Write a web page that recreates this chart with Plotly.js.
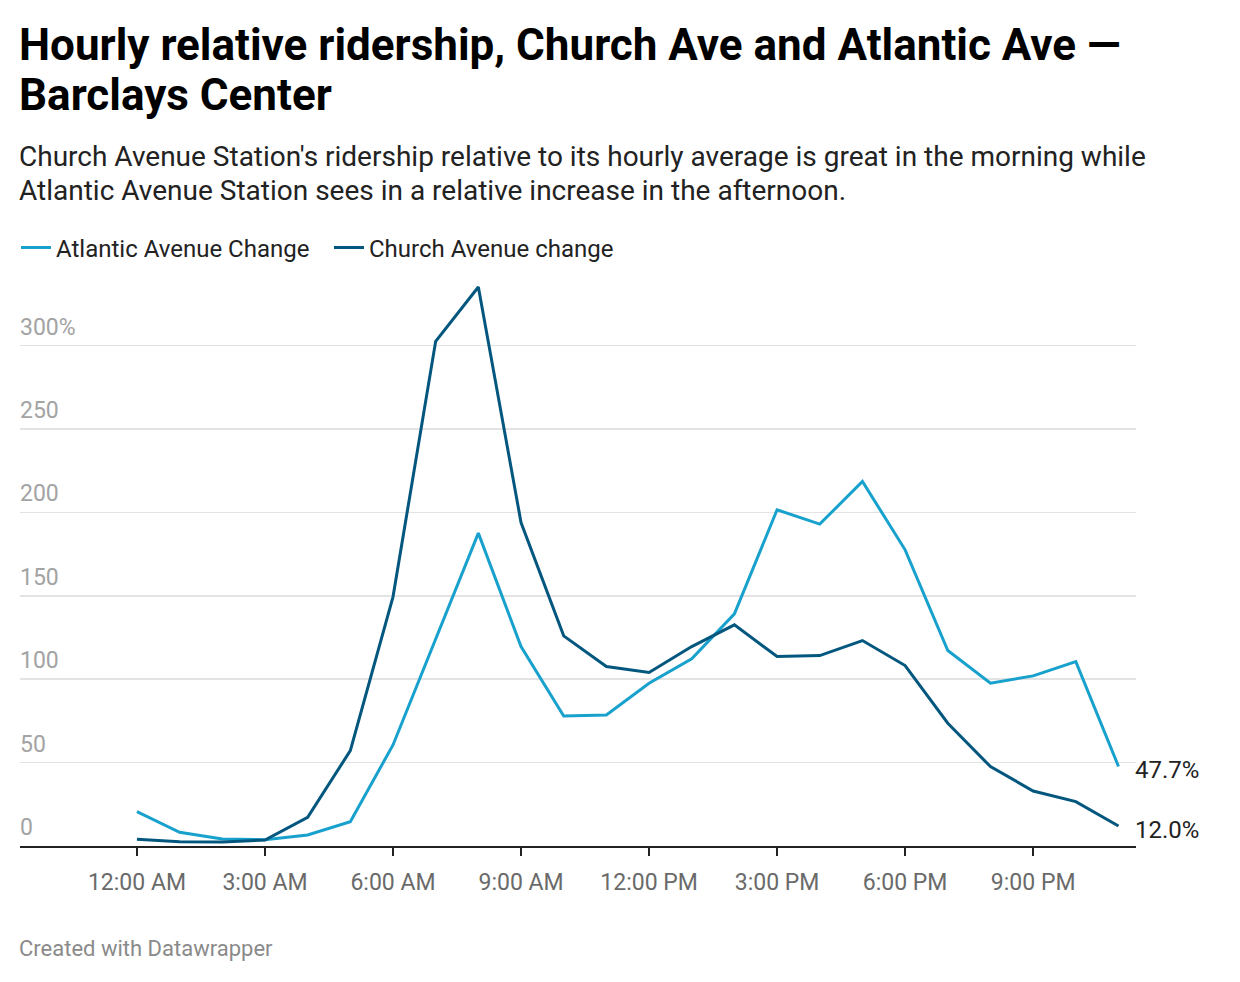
<!DOCTYPE html>
<html>
<head>
<meta charset="utf-8">
<script src="https://cdn.plot.ly/plotly-3.0.1.min.js"></script>
<style>html,body{margin:0;padding:0;background:#fff;}</style>
</head>
<body>
<div id="chart" style="width:1240px;height:982px;"></div>
<script>
const hours = [0,1,2,3,4,5,6,7,8,9,10,11,12,13,14,15,16,17,18,19,20,21,22,23];
const atlanticChange = [20.6,8.2,4.2,3.8,6.6,14.6,60.6,123.6,187.6,119.6,78,78.6,97.6,112.2,139.2,201.6,193,218.6,177.6,117.2,97.6,102,110.6,47.7];
const churchChange = [4.0,2.6,2.4,3.6,17.2,57.2,149.4,302.6,335.2,194,126,107.6,104,119.6,132.6,113.6,114.2,123.2,108.2,73.6,47.6,33,26.6,12.0];
const xTickVals = [0,3,6,9,12,15,18,21];
const xTickText = ["12:00 AM","3:00 AM","6:00 AM","9:00 AM","12:00 PM","3:00 PM","6:00 PM","9:00 PM"];
const yTickVals = [0,50,100,150,200,250,300];
const yTickText = ["0","50","100","150","200","250","300%"];
const seriesNames = ["Atlantic Avenue Change","Church Avenue change"];
const titleLines = ["Hourly relative ridership, Church Ave and Atlantic Ave —","Barclays Center"];
const subtitleLines = ["Church Avenue Station's ridership relative to its hourly average is great in the morning while","Atlantic Avenue Station sees in a relative increase in the afternoon."];
const footerText = "Created with Datawrapper";

const lightBlue = "#18a1cd";
const darkBlue = "#03577f";
const font = "Roboto, 'Noto Sans', sans-serif";

// plot area in pixels
const W = 1240, H = 982, PL = 20, PR = 1136, PT = 279, PB = 846;
const px = x => (x - PL) / (PR - PL);
const py = y => (PB - y) / (PB - PT);

const traces = [
  {x: hours, y: atlanticChange, name: seriesNames[0], type: "scatter", mode: "lines",
   line: {color: lightBlue, width: 3}, hoverinfo: "skip"},
  {x: hours, y: churchChange, name: seriesNames[1], type: "scatter", mode: "lines",
   line: {color: darkBlue, width: 3}, hoverinfo: "skip"}
];

const lastA = atlanticChange[atlanticChange.length-1];
const lastC = churchChange[churchChange.length-1];

function textAnn(text, xPix, yPix, size, color, bold) {
  return {xref: "paper", yref: "paper", x: px(xPix), y: py(yPix), xanchor: "left", yanchor: "middle",
    xshift: -3, showarrow: false, align: "left", text: bold ? "<b>" + text + "</b>" : text,
    font: {family: font, size: size, color: color}};
}

const layout = {
  width: W, height: H,
  paper_bgcolor: "#fff", plot_bgcolor: "#fff",
  margin: {l: PL, r: W - PR, t: PT, b: H - PB},
  font: {family: font, color: "#333"},
  showlegend: true,
  legend: {
    orientation: "h", xref: "container", yref: "container",
    x: 16/W, xanchor: "left", y: 1 - 248/H, yanchor: "middle",
    font: {family: font, size: 24, color: "#222"},
    entrywidth: 268, entrywidthmode: "pixels"
  },
  xaxis: {
    range: [-2.74, 23.41], tickvals: xTickVals, ticktext: xTickText,
    showgrid: false, zeroline: false, showline: true, linecolor: "#222", linewidth: 2,
    ticks: "outside", ticklen: 8, tickwidth: 2, tickcolor: "#222",
    ticklabelstandoff: 6,
    tickfont: {family: font, size: 23, color: "#6a6a6a"}, fixedrange: true
  },
  yaxis: {
    range: [0, 340], tickvals: yTickVals, ticktext: yTickText,
    showgrid: true, gridcolor: "#e3e3e3", gridwidth: 1.5, zeroline: false,
    ticklabelposition: "inside top", ticks: "",
    ticklabelstandoff: -3, ticklabelshift: -3,
    tickfont: {family: font, size: 23, color: "#a3a3a3"}, fixedrange: true
  },
  annotations: [
    textAnn(titleLines[0], 20, 45, 44, "#000", true),
    textAnn(titleLines[1], 20, 95, 44, "#000", true),
    textAnn(subtitleLines[0], 20, 157, 28, "#222", false),
    textAnn(subtitleLines[1], 20, 190, 28, "#222", false),
    {xref: "x", yref: "y", x: 23, y: lastA, xanchor: "left", xshift: 14, yshift: -4, showarrow: false,
     text: lastA.toFixed(1) + "%", font: {family: font, size: 24, color: "#222"}},
    {xref: "x", yref: "y", x: 23, y: lastC, xanchor: "left", xshift: 14, yshift: -4, showarrow: false,
     text: lastC.toFixed(1) + "%", font: {family: font, size: 24, color: "#222"}},
    textAnn(footerText, 20, 948.5, 22, "#8a8a8a", false)
  ]
};

Plotly.newPlot("chart", traces, layout, {staticPlot: true, displayModeBar: false});
</script>
</body>
</html>
